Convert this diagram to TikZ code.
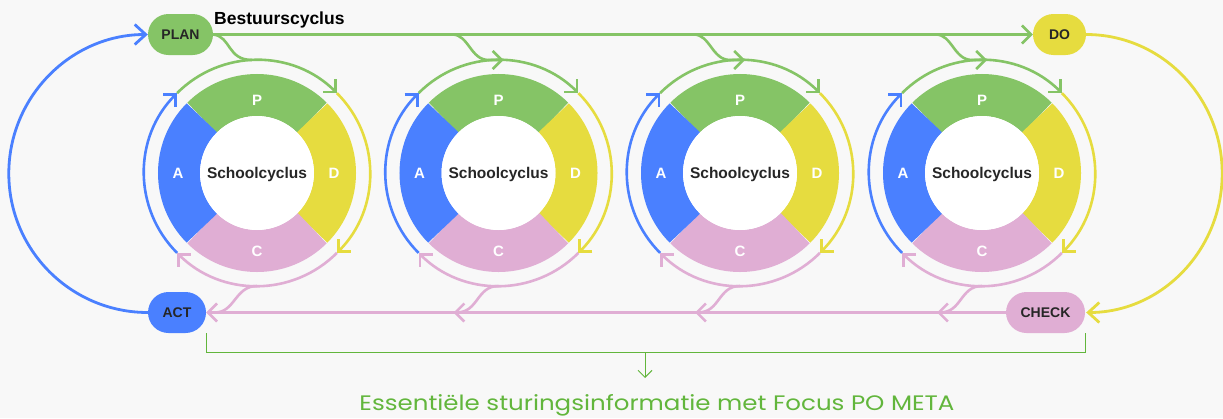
\documentclass[tikz,border=0pt]{standalone}
\usepackage{fontspec}
\setmainfont{Liberation Sans}
\newfontfamily\handfont{Poppins}
\usetikzlibrary{arrows.meta,calc}
\definecolor{cgreen}{HTML}{85C466}
\definecolor{cyellow}{HTML}{E6DC3F}
\definecolor{cpink}{HTML}{E0AED4}
\definecolor{cblue}{HTML}{4A80FF}
\definecolor{cbg}{HTML}{F8F8F8}
\definecolor{cdark}{HTML}{262626}
\definecolor{cdgreen}{HTML}{62B63C}
\begin{document}
\begin{tikzpicture}[x=1pt,y=1pt,
  pill/.style={rounded corners=20.5pt, minimum height=41pt, inner sep=0pt, text=cdark, font=\fontsize{14}{14}\selectfont\bfseries},
  flow/.style={line width=2.6pt},
  >={Straight Barb[length=9pt,width=18pt]},
  bigtip/.style={-{Straight Barb[length=11pt,width=20pt]}},
  seg/.style={line width=42pt},
  seglabel/.style={text=white,font=\fontsize{15}{15}\selectfont\bfseries},
  cyclab/.style={text=cdark,font=\fontsize{15.5}{15.5}\selectfont\bfseries},
]
\fill[cbg] (0,0) rectangle (1223,-418);
\useasboundingbox (0,0) rectangle (1223,-418);

\node[pill, fill=cgreen, minimum width=65pt] (plan) at (180.5,-34.5) {PLAN};
\node[pill, fill=cyellow, minimum width=53pt] (do) at (1059.5,-34.5) {DO};
\node[pill, fill=cblue, minimum width=58pt] (act) at (177,-312.5) {ACT};
\node[pill, fill=cpink, minimum width=79pt] (check) at (1045.5,-312.5) {CHECK};
\node[anchor=west, font=\fontsize{17.5}{17.5}\selectfont\bfseries, inner sep=0pt] (bc) at (214,-20) {Bestuurscyclus};

\foreach \i/\x in {1/257,2/498.5,3/740,4/982}{
  \coordinate (c\i) at (\x,-173);
  \draw[seg,cgreen] (c\i) ++(45:78) arc[start angle=45,end angle=135,radius=78];
  \draw[seg,cyellow] (c\i) ++(-45:78) arc[start angle=-45,end angle=45,radius=78];
  \draw[seg,cpink] (c\i) ++(-135:78) arc[start angle=-135,end angle=-45,radius=78];
  \draw[seg,cblue] (c\i) ++(135:78) arc[start angle=135,end angle=225,radius=78];
  \fill[white] (c\i) circle[radius=57];
  \node[cyclab] (s\i) at ($(c\i)+(0,-1.5)$) {Schoolcyclus};
  \node[seglabel] (p\i) at ($(c\i)+(90:73)$) {P};
  \node[seglabel] (d\i) at ($(c\i)+(0:77)$) {D};
  \node[seglabel] (cc\i) at ($(c\i)+(-90:78)$) {C};
  \node[seglabel] (a\i) at ($(c\i)+(180:79)$) {A};
  \draw[flow,cgreen,->] (c\i) ++(135:113) arc[start angle=135,end angle=45,radius=113];
  \draw[flow,cyellow,->] (c\i) ++(45:113) arc[start angle=45,end angle=-45,radius=113];
  \draw[flow,cpink,->] (c\i) ++(-45:113) arc[start angle=-45,end angle=-135,radius=113];
  \draw[flow,cblue,->] (c\i) ++(225:113) arc[start angle=225,end angle=135,radius=113];
}
\foreach \i in {2,3,4}{
  \draw[flow,cgreen,->] ($(c\i)+(-46,138.5)$) .. controls ($(c\i)+(-30,138.5)$) and ($(c\i)+(-28,113)$) .. ($(c\i)+(-10,113)$) -- ($(c\i)+(5,113)$);
  \draw[flow,cpink,->] ($(c\i)+(0,-113)$) .. controls ($(c\i)+(-22,-113)$) and ($(c\i)+(-20,-139.5)$) .. ($(c\i)+(-45,-139.5)$);
}
\draw[flow,cgreen] (plan.east) .. controls ($(plan.east)+(18,-2)$) and ($(c1)+(-30,113)$) .. ($(c1)+(-5,113)$);
\draw[flow,cpink] ($(c1)+(0,-113)$) .. controls ($(c1)+(-22,-113)$) and ($(c1)+(-22,-139.5)$) .. ($(c1)+(-42,-139.5)$);

\draw[flow,cgreen,->] (plan.east) -- (do.west);
\draw[flow,cpink,->] (check.west) -- (act.east);
\draw[flow,cblue,bigtip,line width=2.8pt] (act.west) arc[start angle=270,end angle=90,radius=139];
\draw[flow,cyellow,bigtip,line width=2.8pt] (do.east) arc[start angle=90,end angle=-90,x radius=136,y radius=139];

\draw[cdgreen,line width=1.2pt] (act.south east) -- ++(0,-19.5) coordinate (bl) -| (check.south east);
\coordinate (bm) at (645,-352);
\coordinate (bt) at (645,-378);
\draw[cdgreen,line width=1pt,-{Straight Barb[length=7pt,width=14pt]}] (bm) -- (bt);
\node[text=cdgreen, anchor=base, inner sep=0pt] (info) at (657,-410) {\resizebox{595pt}{16pt}{\handfont Essentiële sturingsinformatie met Focus PO META}};
\end{tikzpicture}
\end{document}
